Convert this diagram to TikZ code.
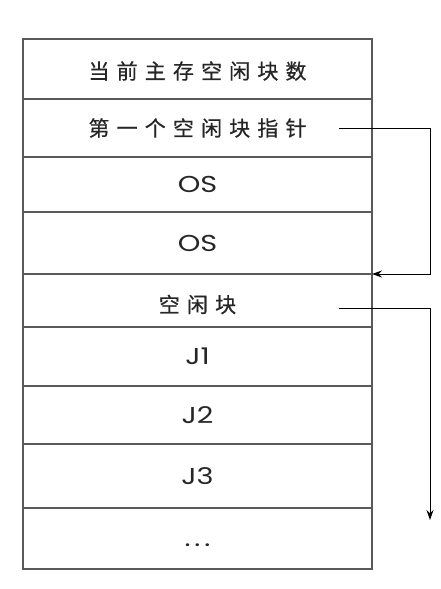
\documentclass[tikz,border=0pt]{standalone}
\usepackage{fontspec}
\newfontfamily\cjk{Noto Sans CJK SC}[LetterSpace=34,FakeBold=0.6]
\newfontfamily\lat{Poppins}[FakeStretch=1.25]
\usetikzlibrary{positioning,arrows.meta}
\tikzset{>={Stealth[length=10pt,width=7pt]}}
\tikzset{
  cell/.style={draw=black!65, line width=1.2pt, minimum width=349pt,
    outer sep=0pt, inner sep=0pt, text=black!85},
  cnrow/.style={cell, font=\cjk\fontsize{21}{21}\selectfont},
  latrow/.style={cell, font=\lat\fontsize{23}{23}\selectfont},
  link/.style={->, line width=1pt, black}
}

\begin{document}
\begin{tikzpicture}[x=1pt,y=-1pt]
  \useasboundingbox (0,0) rectangle (440,589);
  % memory column
  \node[cnrow, minimum height=60pt, text height=20pt, text depth=0pt] (count) at (197.5,69) {当前主存空闲块数};
  \node[cnrow, minimum height=58pt, below=0pt of count] (ptr) {第一个空闲块指针};
  \node[latrow, minimum height=55pt, below=0pt of ptr] (os1) {OS};
  \node[latrow, minimum height=62pt, below=0pt of os1] (os2) {OS};
  \node[cnrow, minimum height=53pt, text height=24pt, text depth=0pt, below=0pt of os2] (free) {空闲块};
  \node[latrow, minimum height=59pt, below=0pt of free] (j1) {J1};
  \node[latrow, minimum height=58pt, below=0pt of j1] (j2) {J2};
  \node[latrow, minimum height=64pt, below=0pt of j2] (j3) {J3};
  \node[latrow, minimum height=61pt, text height=16pt, text depth=0pt, below=0pt of j3] (dots) {.\,.\,.};
  % links
  \coordinate (tail) at ([xshift=58pt,yshift=-12pt]dots.north east);
  \draw[link] ([xshift=-33pt]ptr.east) -| ([xshift=58pt]free.north east) -- (free.north east);
  \draw[link] ([xshift=-33pt,yshift=-8pt]free.east) -| (tail);
\end{tikzpicture}
\end{document}
